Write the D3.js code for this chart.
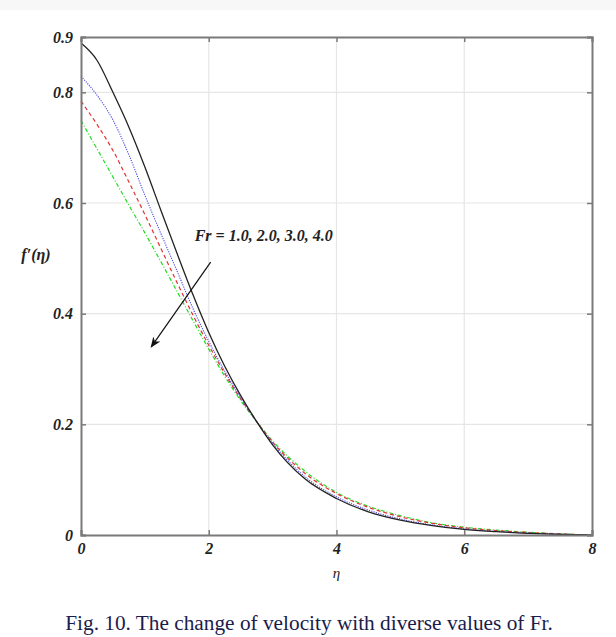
<!DOCTYPE html>
<html lang="en">
<head>
  <meta charset="UTF-8" />
  <title>Velocity profiles for different Fr</title>
  <script src="https://d3js.org/d3.v7.min.js"></script>
  <style>
    body {
      margin: 0;
      background: #fff;
    }
    svg {
      display: block;
    }
    svg text.tick-label {
      font-family: "Liberation Serif", "Times New Roman", Times, serif;
      font-weight: 700;
      font-style: italic;
      font-size: 16px;
      fill: #222;
    }
    svg text.caption {
      font-family: "Liberation Serif", "Times New Roman", Times, serif;
      font-size: 21.3px;
      fill: #1c1c4c;
    }
  </style>
</head>
<body>
  <svg width="616" height="637"></svg>

  <script>
    // eta values (shared by all curves)
    const eta = [0, 0.25, 0.5, 0.75, 1.0, 1.25, 1.5, 1.75, 2.0, 2.25, 2.5, 2.75,
                 3.0, 3.5, 4.0, 4.5, 5.0, 5.5, 6.0, 6.5, 7.0, 7.5, 8.0];

    // f'(eta)
    const fr1 = [0.889, 0.858, 0.800, 0.737, 0.665, 0.587, 0.510, 0.435, 0.366, 0.305, 0.252, 0.205,
                 0.163, 0.102, 0.066, 0.042, 0.027, 0.017, 0.010, 0.006, 0.003, 0.001, 0];
    const fr2 = [0.829, 0.795, 0.750, 0.687, 0.614, 0.545, 0.478, 0.410, 0.350, 0.296, 0.248, 0.205,
                 0.166, 0.106, 0.069, 0.045, 0.029, 0.018, 0.011, 0.0065, 0.0035, 0.0015, 0];
    const fr3 = [0.784, 0.742, 0.695, 0.638, 0.579, 0.518, 0.457, 0.398, 0.343, 0.292, 0.246, 0.205,
                 0.168, 0.112, 0.075, 0.050, 0.033, 0.021, 0.013, 0.008, 0.0045, 0.002, 0];
    const fr4 = [0.749, 0.698, 0.647, 0.596, 0.546, 0.494, 0.441, 0.388, 0.336, 0.287, 0.243, 0.205,
                 0.170, 0.116, 0.077, 0.052, 0.035, 0.022, 0.014, 0.009, 0.005, 0.002, 0];

    const xTicks = [0, 2, 4, 6, 8];
    const yTicks = [0, 0.2, 0.4, 0.6, 0.8, 0.9];
    const yGrid = [0.2, 0.4, 0.6, 0.8];

    const series = [
      { name: "Fr = 1.0", values: fr1, color: "#222222", dash: null, width: 1.3 },
      { name: "Fr = 2.0", values: fr2, color: "#4a4ae8", dash: "1.2,1.2", width: 1.1 },
      { name: "Fr = 3.0", values: fr3, color: "#e23232", dash: "4,3", width: 1.2 },
      { name: "Fr = 4.0", values: fr4, color: "#22dd22", dash: "4,2,1,2", width: 1.2 }
    ];

    const serif = "'Liberation Serif', 'Times New Roman', Times, serif";

    const svg = d3.select("svg");
    const margin = { top: 37, right: 24, bottom: 102, left: 81 };
    const width = 592 - margin.left;
    const height = 535 - margin.top;

    // faint strip along the top edge
    svg.append("rect")
      .attr("x", 0).attr("y", 0)
      .attr("width", 616).attr("height", 10)
      .attr("fill", "#f7f7f7");

    const chart = svg.append("g")
      .attr("transform", `translate(${margin.left},${margin.top})`);

    const x = d3.scaleLinear().domain([0, 8]).range([0, width]);
    const y = d3.scaleLinear().domain([0, 0.9]).range([height, 0]);

    // grid
    chart.append("g")
      .selectAll("line")
      .data(xTicks.slice(1, -1))
      .join("line")
      .attr("x1", d => x(d)).attr("x2", d => x(d))
      .attr("y1", 0).attr("y2", height)
      .attr("stroke", "#e6e6e6")
      .attr("stroke-width", 1.2);

    chart.append("g")
      .selectAll("line")
      .data(yGrid)
      .join("line")
      .attr("x1", 0).attr("x2", width)
      .attr("y1", d => y(d)).attr("y2", d => y(d))
      .attr("stroke", "#e6e6e6")
      .attr("stroke-width", 1.2);

    // curves
    const line = d3.line()
      .x(d => x(d[0]))
      .y(d => y(d[1]))
      .curve(d3.curveMonotoneX);

    series.slice().reverse().forEach(s => {
      chart.append("path")
        .datum(eta.map((e, i) => [e, s.values[i]]))
        .attr("fill", "none")
        .attr("stroke", s.color)
        .attr("stroke-width", s.width)
        .attr("stroke-dasharray", s.dash)
        .attr("d", line);
    });

    // axes (inward ticks, box)
    const axisColor = "#7a7a7a";
    const bottomAxis = chart.append("g")
      .attr("transform", `translate(0,${height})`)
      .call(d3.axisBottom(x).tickValues(xTicks).tickSize(-5).tickPadding(8).tickFormat(d3.format("d")));
    const leftAxis = chart.append("g")
      .call(d3.axisLeft(y).tickValues(yTicks).tickSize(-5).tickPadding(8)
        .tickFormat(d => d === 0 ? "0" : d3.format(".1f")(d)));
    const topAxis = chart.append("g")
      .call(d3.axisTop(x).tickValues(xTicks).tickSize(-5).tickFormat(""));
    const rightAxis = chart.append("g")
      .attr("transform", `translate(${width},0)`)
      .call(d3.axisRight(y).tickValues(yTicks).tickSize(-5).tickFormat(""));

    [bottomAxis, leftAxis, topAxis, rightAxis].forEach(a => {
      a.attr("font-family", serif).attr("font-size", 16);
      a.select(".domain").attr("stroke", axisColor).attr("stroke-width", 2);
      a.selectAll(".tick line").attr("stroke", axisColor).attr("stroke-width", 1.5);
      a.selectAll(".tick text").attr("class", "tick-label");
    });

    // axis titles
    chart.append("text")
      .attr("x", x(4))
      .attr("y", height + 43)
      .attr("text-anchor", "middle")
      .attr("class", "tick-label")
      .style("font-weight", "normal")
      .style("font-size", "15px")
      .text("η");

    svg.append("text")
      .attr("x", 36)
      .attr("y", 260)
      .attr("text-anchor", "middle")
      .attr("class", "tick-label")
      .style("font-size", "16px")
      .text("f′(η)");

    // annotation
    chart.append("text")
      .attr("x", x(1.78))
      .attr("y", y(0.532))
      .attr("class", "tick-label")
      .style("font-size", "16px")
      .text("Fr = 1.0, 2.0, 3.0, 4.0");

    svg.append("defs").append("marker")
      .attr("id", "arrow")
      .attr("viewBox", "0 0 10 10")
      .attr("refX", 9).attr("refY", 5)
      .attr("markerWidth", 9).attr("markerHeight", 9)
      .attr("orient", "auto")
      .append("path")
      .attr("d", "M0,1 L10,5 L0,9 L3,5 Z")
      .attr("fill", "#111");

    chart.append("line")
      .attr("x1", x(2.03)).attr("y1", y(0.493))
      .attr("x2", x(1.10)).attr("y2", y(0.340))
      .attr("stroke", "#111")
      .attr("stroke-width", 1.2)
      .attr("marker-end", "url(#arrow)");

    // caption
    svg.append("text")
      .attr("x", 309)
      .attr("y", 630)
      .attr("text-anchor", "middle")
      .attr("class", "caption")
      .text("Fig. 10. The change of velocity with diverse values of Fr.");
  </script>
</body>
</html>
